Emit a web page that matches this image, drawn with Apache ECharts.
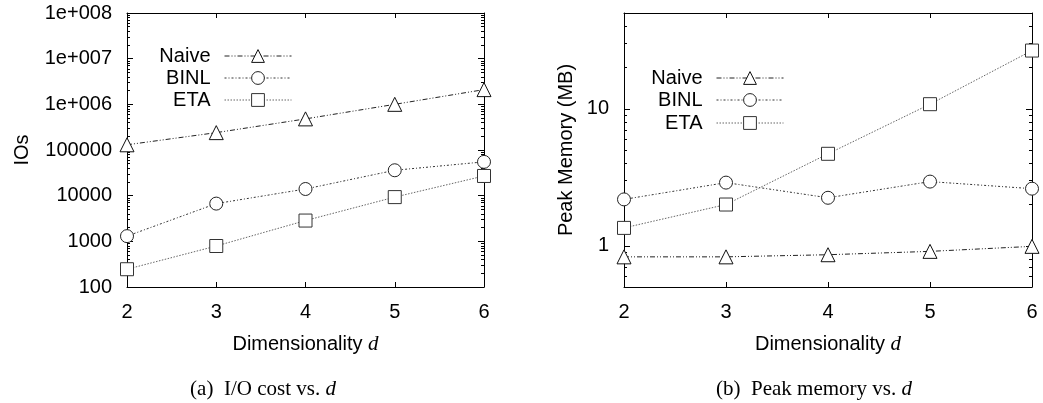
<!DOCTYPE html>
<html>
<head>
<meta charset="utf-8">
<script src="https://cdn.jsdelivr.net/npm/echarts@6/dist/echarts.min.js"></script>
<style>
  html, body { margin: 0; padding: 0; background: #fff; }
  #chart { width: 1043px; height: 403px; }
</style>
</head>
<body>
<div id="chart"></div>
<script>
// dimensionality d
const dims = [2, 3, 4, 5, 6];

// (a) I/O cost
const ioNaive = [130000, 240000, 480000, 1000000, 2100000];
const ioBinl = [1300, 6700, 14000, 36000, 55000];
const ioEta = [245, 790, 2850, 9300, 27000];

// (b) peak memory (MB)
const memNaive = [0.83, 0.83, 0.86, 0.91, 0.99];
const memBinl = [2.18, 2.89, 2.24, 2.94, 2.61];
const memEta = [1.35, 2.0, 4.69, 10.8, 26.6];

// tick labels
const ioTicks = [100, 1000, 10000, 100000, 1e6, 1e7, 1e8];
const ioTickLabels = ['100', '1000', '10000', '100000', '1e+006', '1e+007', '1e+008'];
const memTicks = [1, 10];
const memTickLabels = ['1', '10'];
const memMin = 0.5, memMax = 50;

const seriesNames = ['Naive', 'BINL', 'ETA'];
const symbols = ['triangle', 'circle', 'rect'];
const dashes = [[5, 2, 1, 2, 1, 2], [2, 2, 1, 2], [1.5, 1.5]];
const lineColors = ['#222', '#333', '#666'];
const markColors = ['#111', '#222', '#333'];

const FONT = 'Liberation Sans, Arial, sans-serif';
const SERIF = 'Liberation Serif, Times New Roman, serif';

// minor ticks at 2..9 of each decade
function minorTicks(lo, hi) {
  const out = [];
  for (let p = 1e-3; p < hi; p *= 10) {
    for (let k = 1; k <= 9; k++) {
      const v = +(k * p).toPrecision(6);
      if (v >= lo && v <= hi) out.push(v);
    }
  }
  return out;
}

function labelOf(ticks, labels) {
  return v => {
    const i = ticks.findIndex(t => Math.abs(t - v) / t < 1e-6);
    return i >= 0 ? labels[i] : '';
  };
}

function xAxes(grid) {
  const base = {
    type: 'value', gridIndex: grid, min: 2, max: 6, interval: 1,
    axisLine: { show: true, onZero: false, lineStyle: { color: '#000', width: 1 } },
    axisTick: { inside: true, length: 5, lineStyle: { color: '#000' } },
    splitLine: { show: false }
  };
  return [
    Object.assign({}, base, {
      position: 'bottom',
      axisLabel: { color: '#000', fontSize: 20, fontFamily: FONT, margin: 15 },
      name: 'Dimensionality {it|d}',
      nameLocation: 'middle',
      nameGap: 47,
      nameTextStyle: {
        color: '#000', fontSize: 20, fontFamily: FONT,
        rich: { it: { fontFamily: SERIF, fontStyle: 'italic', fontSize: 21, color: '#000' } }
      }
    }),
    Object.assign({}, base, { position: 'top', axisLabel: { show: false } })
  ];
}

function yAxes(grid, min, max, ticks, labels, name, gap) {
  const minors = minorTicks(min, max);
  const common = {
    type: 'log', logBase: 10, gridIndex: grid, min: min, max: max,
    splitLine: { show: false }, minorTick: { show: false }
  };
  const line = { show: true, onZero: false, lineStyle: { color: '#000', width: 1 } };
  return [
    Object.assign({}, common, {
      position: 'left', axisLine: line,
      axisTick: { inside: true, length: 6, customValues: ticks, lineStyle: { color: '#000' } },
      axisLabel: {
        color: '#000', fontSize: 20, fontFamily: FONT, margin: 15,
        customValues: ticks, formatter: labelOf(ticks, labels)
      },
      name: name, nameLocation: 'middle', nameGap: gap, nameRotate: 90,
      nameTextStyle: { color: '#000', fontSize: 20, fontFamily: FONT }
    }),
    Object.assign({}, common, {
      position: 'left', axisLine: { show: false },
      axisTick: { inside: true, length: 3, customValues: minors, lineStyle: { color: '#000' } },
      axisLabel: { show: false }
    }),
    Object.assign({}, common, {
      position: 'right', axisLine: line,
      axisTick: { inside: true, length: 6, customValues: ticks, lineStyle: { color: '#000' } },
      axisLabel: { show: false }
    }),
    Object.assign({}, common, {
      position: 'right', axisLine: { show: false },
      axisTick: { inside: true, length: 3, customValues: minors, lineStyle: { color: '#000' } },
      axisLabel: { show: false }
    })
  ];
}

function makeSeries(values, i, xIdx, yIdx, suffix) {
  return {
    id: seriesNames[i] + suffix,
    name: seriesNames[i],
    type: 'line',
    xAxisIndex: xIdx,
    yAxisIndex: yIdx,
    data: dims.map((d, k) => [d, values[k]]),
    symbol: symbols[i],
    symbolSize: i === 0 ? 14 : 13,
    lineStyle: { color: lineColors[i], width: 1, type: dashes[i] },
    itemStyle: { color: '#fff', borderColor: markColors[i], borderWidth: 1 },
    emphasis: { disabled: true },
    silent: true,
    z: 3 - i
  };
}

function makeLegend(i, right, top) {
  return {
    data: [seriesNames[i]],
    right: right,
    top: top,
    align: 'right',
    selectedMode: false,
    itemWidth: 67,
    itemHeight: 16,
    padding: 0,
    textStyle: { color: '#000', fontSize: 20, fontFamily: FONT, padding: [0, 9, 0, 0] },
    lineStyle: { color: lineColors[i], width: 1, type: dashes[i] },
    itemStyle: { color: '#fff', borderColor: markColors[i], borderWidth: 1 }
  };
}

function caption(text, cx) {
  return {
    type: 'text', x: cx, y: 389,
    style: {
      text: text, fill: '#000',
      fontSize: 21, fontFamily: SERIF,
      textAlign: 'center', textVerticalAlign: 'middle',
      rich: { it: { fontStyle: 'italic', fontFamily: SERIF, fontSize: 21, fill: '#000' } }
    }
  };
}

const chart = echarts.init(document.getElementById('chart'), null, { renderer: 'canvas' });

const ioSets = [ioNaive, ioBinl, ioEta];
const memSets = [memNaive, memBinl, memEta];

chart.setOption({
  animation: false,
  backgroundColor: '#fff',
  grid: [
    { left: 127, right: 559, top: 13, bottom: 116 },
    { left: 624, right: 11, top: 13, bottom: 116 }
  ],
  xAxis: xAxes(0).concat(xAxes(1)),
  yAxis: yAxes(0, 100, 1e8, ioTicks, ioTickLabels, 'IOs', 95)
    .concat(yAxes(1, memMin, memMax, memTicks, memTickLabels, 'Peak Memory (MB)', 48)),
  legend: [
    makeLegend(0, 751, 46), makeLegend(1, 751, 68), makeLegend(2, 751, 90),
    makeLegend(0, 259, 68), makeLegend(1, 259, 90), makeLegend(2, 259, 113)
  ],
  series: ioSets.map((v, i) => makeSeries(v, i, 0, 0, '_io'))
    .concat(memSets.map((v, i) => makeSeries(v, i, 2, 4, '_mem'))),
  graphic: [
    caption('(a)  I/O cost vs. {it|d}', 263),
    caption('(b)  Peak memory vs. {it|d}', 814)
  ]
});
</script>
</body>
</html>
